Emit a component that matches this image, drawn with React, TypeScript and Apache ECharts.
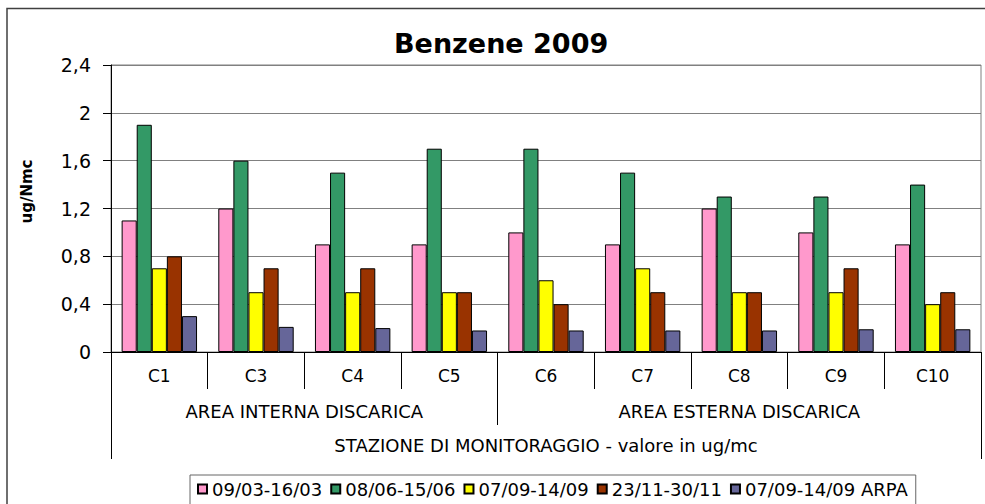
import React, { useEffect, useRef } from "react";
import * as echarts from "echarts";

const categories = ["C1", "C3", "C4", "C5", "C6", "C7", "C8", "C9", "C10"];
const seriesNames = ["09/03-16/03", "08/06-15/06", "07/09-14/09", "23/11-30/11", "07/09-14/09 ARPA"];
const s1 = [1.1, 1.2, 0.9, 0.9, 1.0, 0.9, 1.2, 1.0, 0.9];
const s2 = [1.9, 1.6, 1.5, 1.7, 1.7, 1.5, 1.3, 1.3, 1.4];
const s3 = [0.7, 0.5, 0.5, 0.5, 0.6, 0.7, 0.5, 0.5, 0.4];
const s4 = [0.8, 0.7, 0.7, 0.5, 0.4, 0.5, 0.5, 0.7, 0.5];
const s5 = [0.3, 0.21, 0.2, 0.18, 0.18, 0.18, 0.18, 0.19, 0.19];
const colors = ["#FF99CC", "#339966", "#FFFF00", "#993300", "#666699"];
const groupNames = ["AREA INTERNA DISCARICA", "AREA ESTERNA DISCARICA"];
const groupSizes = [4, 5];
const outerTitle = "STAZIONE DI MONITORAGGIO - valore in ug/mc";
const yTicks = { min: 0, max: 2.4, interval: 0.4 };

const FONT = "DejaVu Sans";

export default function App() {
  const ref = useRef<HTMLDivElement>(null);
  useEffect(() => {
    if (!ref.current) return;
    const chart = echarts.init(ref.current, null, { renderer: "svg" });
    const data = [s1, s2, s3, s4, s5];

    const bounds: number[] = [0];
    const centers: number[] = [];
    groupSizes.forEach((n) => {
      const start = bounds[bounds.length - 1];
      centers.push(start + n / 2);
      bounds.push(start + n);
    });
    const total = bounds[bounds.length - 1];

    chart.setOption({
      animation: false,
      backgroundColor: "#fff",
      textStyle: { fontFamily: FONT },
      title: {
        text: "Benzene 2009",
        left: 394,
        top: 30,
        padding: 0,
        textStyle: { fontFamily: FONT, fontWeight: "bold", fontSize: 27, color: "#000" },
      },
      graphic: [
        {
          type: "rect",
          shape: { x: 7, y: 8.5, width: 1200, height: 1000 },
          style: { fill: "none", stroke: "#404040", lineWidth: 1.5 },
          silent: true,
        },
      ],
      legend: {
        left: 190,
        top: 475,
        padding: [5, 8, 30, 7],
        itemGap: 8,
        itemWidth: 9,
        itemHeight: 9,
        icon: "rect",
        borderColor: "#666",
        borderWidth: 1,
        backgroundColor: "#fff",
        textStyle: { fontFamily: FONT, fontSize: 18, color: "#000" },
        data: seriesNames,
      },
      grid: {
        left: 111,
        right: 4,
        top: 65,
        bottom: 152,
        show: true,
        borderColor: "#808080",
        borderWidth: 1,
        backgroundColor: "transparent",
      },
      xAxis: [
        {
          type: "category",
          data: categories,
          position: "bottom",
          axisLine: { show: true, lineStyle: { color: "#000", width: 1 } },
          axisTick: { show: true, length: 37, interval: 0, lineStyle: { color: "#000" } },
          axisLabel: { fontFamily: FONT, fontSize: 17, color: "#000", margin: 15, interval: 0 },
        },
        {
          type: "value",
          min: 0,
          max: total,
          position: "bottom",
          offset: 37,
          axisLine: { show: false },
          splitLine: { show: false },
          axisTick: { show: true, length: 36, customValues: bounds, lineStyle: { color: "#000" } },
          axisLabel: {
            customValues: centers,
            fontFamily: FONT,
            fontSize: 18,
            color: "#000",
            margin: 13,
            formatter: (v: number) => {
              const i = centers.findIndex((c) => Math.abs(c - v) < 1e-6);
              return i >= 0 ? groupNames[i] : "";
            },
          },
        },
        {
          type: "value",
          min: 0,
          max: total,
          position: "bottom",
          offset: 73,
          axisLine: { show: false },
          splitLine: { show: false },
          axisTick: { show: true, length: 34, customValues: [0, total], lineStyle: { color: "#000" } },
          axisLabel: {
            customValues: [total / 2],
            fontFamily: FONT,
            fontSize: 18,
            color: "#000",
            margin: 11,
            formatter: () => outerTitle,
          },
        },
      ],
      yAxis: {
        type: "value",
        min: yTicks.min,
        max: yTicks.max,
        interval: yTicks.interval,
        name: "ug/Nmc",
        nameLocation: "middle",
        nameGap: 77,
        nameRotate: 90,
        nameTextStyle: { fontFamily: FONT, fontWeight: "bold", fontSize: 15, color: "#000", padding: [0, 0, 0, 34] },
        axisLine: { show: true, lineStyle: { color: "#000" } },
        axisTick: { show: true, length: 8, lineStyle: { color: "#000" } },
        splitLine: { show: true, lineStyle: { color: "#808080", width: 1 } },
        axisLabel: {
          fontFamily: FONT,
          fontSize: 19,
          color: "#000",
          margin: 20,
          formatter: (v: number) => String(Number(v.toFixed(1))).replace(".", ","),
        },
      },
      series: data.map((d, i) => ({
        type: "bar",
        name: seriesNames[i],
        data: d,
        xAxisIndex: 0,
        yAxisIndex: 0,
        barGap: "0%",
        barCategoryGap: "22%",
        itemStyle: { color: colors[i], borderColor: "#000", borderWidth: 1 },
      })),
    });
    return () => chart.dispose();
  }, []);
  return (
    <div
      ref={ref}
      style={{ position: "absolute", left: 0, top: 0, width: 985, height: 504, background: "#fff" }}
    />
  );
}
